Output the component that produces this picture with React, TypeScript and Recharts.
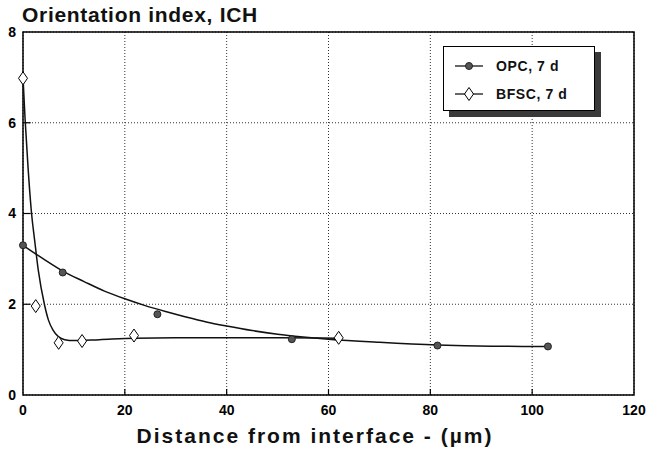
import { ComposedChart, Line, Scatter, XAxis, YAxis, CartesianGrid, ReferenceArea, ReferenceLine } from 'recharts';

// measured points
const opcX = [0, 7.8, 26.4, 52.8, 81.4, 103.1];
const opcY = [3.3, 2.7, 1.78, 1.23, 1.09, 1.07];
const bfscX = [0, 2.5, 7.0, 11.6, 21.8, 62.0];
const bfscY = [6.98, 1.96, 1.15, 1.19, 1.31, 1.26];

// fitted curves
const opcFitX = [0, 4, 8, 12, 16, 20, 24, 28, 32, 36, 40, 45, 50, 55, 60, 70, 81.4, 92, 103];
const opcFitY = [3.3, 3.0, 2.72, 2.5, 2.29, 2.12, 1.97, 1.84, 1.72, 1.61, 1.52, 1.42, 1.34, 1.28, 1.23, 1.16, 1.1, 1.075, 1.07];
const bfscFitX = [0, 0.4, 1.0, 1.6, 2.35, 3.0, 4.2, 5.0, 5.9, 7.0, 8.2, 10, 15, 22, 30, 40, 50, 62];
const bfscFitY = [7.0, 6.1, 5.0, 4.1, 3.35, 2.75, 2.0, 1.65, 1.43, 1.28, 1.22, 1.2, 1.22, 1.25, 1.26, 1.26, 1.26, 1.25];

const xTicks = [0, 20, 40, 60, 80, 100, 120];
const yTicks = [0, 2, 4, 6, 8];

const toPts = (xs: number[], ys: number[]) => xs.map((x, i) => ({ x, y: ys[i] }));
const opcPts = toPts(opcX, opcY);
const bfscPts = toPts(bfscX, bfscY);
const opcFit = toPts(opcFitX, opcFitY);
const bfscFit = toPts(bfscFitX, bfscFitY);

const font = '"Liberation Sans", Arial, sans-serif';
const tickStyle = { fill: '#000', fontSize: 14, fontWeight: 700, fontFamily: font };

const Dot = (p: any) => <circle cx={p.cx} cy={p.cy} r={3.5} fill="#555" stroke="#222" strokeWidth={1} />;
const Diamond = (p: any) => (
  <path d={`M${p.cx},${p.cy - 6.5} L${p.cx + 4.5},${p.cy} L${p.cx},${p.cy + 6.5} L${p.cx - 4.5},${p.cy} Z`} fill="#fff" stroke="#000" strokeWidth={1} />
);

export default function App() {
  return (
    <div style={{ position: 'absolute', left: 0, top: 0, width: 646, height: 451, background: '#fff', fontFamily: font }}>
      <div style={{ position: 'absolute', left: 22, top: 4, fontSize: 21, lineHeight: '21px', fontWeight: 700, letterSpacing: 0.7, color: '#111' }}>
        Orientation index, ICH
      </div>
      <ComposedChart width={646} height={451} margin={{ top: 32, right: 12, left: 0, bottom: 0 }}>
        <CartesianGrid stroke="#333" strokeDasharray="1 2" />
        <XAxis dataKey="x" type="number" domain={[0, 120]} ticks={xTicks} height={56} tick={tickStyle}
          tickLine={false} tickSize={0} tickMargin={10} axisLine={false} interval={0} />
        <YAxis type="number" domain={[0, 8]} ticks={yTicks} width={23} tick={tickStyle}
          tickLine={false} tickSize={0} tickMargin={7} axisLine={false} interval={0} />
        <ReferenceArea x1={0} x2={120} y1={0} y2={8} fill="none" stroke="#000" strokeWidth={1.5} />
        {xTicks.slice(1, -1).map((t) => (
          <ReferenceLine key={'xt' + t} segment={[{ x: t, y: 0 }, { x: t, y: 0.13 }]} stroke="#000" strokeWidth={1.2} />
        ))}
        {yTicks.slice(1, -1).map((t) => (
          <ReferenceLine key={'yt' + t} segment={[{ x: 0, y: t }, { x: 1.5, y: t }]} stroke="#000" strokeWidth={1.2} />
        ))}
        <Line data={opcFit} dataKey="y" type="monotone" stroke="#111" strokeWidth={1.5} dot={false} isAnimationActive={false} />
        <Line data={bfscFit} dataKey="y" type="monotone" stroke="#111" strokeWidth={1.5} dot={false} isAnimationActive={false} />
        <Scatter data={opcPts} dataKey="y" shape={Dot} isAnimationActive={false} />
        <Scatter data={bfscPts} dataKey="y" shape={Diamond} isAnimationActive={false} />
      </ComposedChart>
      <div style={{ position: 'absolute', left: 443, top: 46, width: 150, height: 63, background: '#fff', border: '1.5px solid #000', boxShadow: '6px 6px 0 #3a3a3a' }}>
        {[{ name: 'OPC, 7 d', shape: 'dot' }, { name: 'BFSC, 7 d', shape: 'diamond' }].map((it, i) => (
          <div key={it.name} style={{ position: 'absolute', left: 11, top: 10 + i * 28, height: 18, display: 'flex', alignItems: 'center' }}>
            <svg width={28} height={18}>
              <line x1={0} y1={9} x2={28} y2={9} stroke="#000" strokeWidth={1.2} />
              {it.shape === 'dot'
                ? <circle cx={14} cy={9} r={3.5} fill="#555" stroke="#222" />
                : <path d="M14,2.5 L18.5,9 L14,15.5 L9.5,9 Z" fill="#fff" stroke="#000" />}
            </svg>
            <span style={{ marginLeft: 13, fontSize: 14, fontWeight: 700, letterSpacing: 0.6, color: '#111' }}>{it.name}</span>
          </div>
        ))}
      </div>
      <div style={{ position: 'absolute', left: 0, width: 630, top: 425, textAlign: 'center', fontSize: 21, lineHeight: '21px', fontWeight: 700, letterSpacing: 2, color: '#111' }}>
        Distance from interface - (µm)
      </div>
    </div>
  );
}
